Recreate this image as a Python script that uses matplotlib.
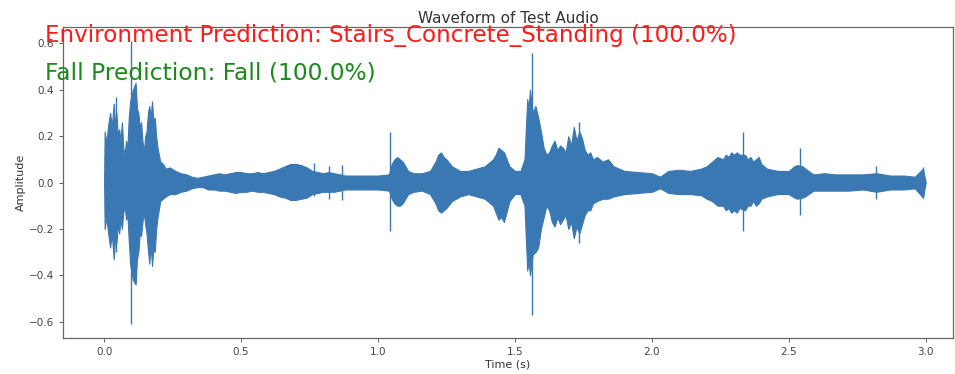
import matplotlib
matplotlib.use("Agg")
import matplotlib.pyplot as plt


# envelope of the waveform (time in s, upper / lower amplitude)
env_t = [0.000, 0.002, 0.008, 0.015, 0.022, 0.028, 0.035, 0.040, 0.045, 0.050,
         0.055, 0.060, 0.065, 0.070, 0.075, 0.080, 0.085, 0.090, 0.095, 0.105,
         0.115, 0.120, 0.125, 0.130, 0.135, 0.140, 0.145, 0.150, 0.155, 0.160,
         0.165, 0.170, 0.175, 0.180, 0.185, 0.190, 0.195, 0.205, 0.215, 0.225,
         0.24, 0.26, 0.28, 0.30, 0.32, 0.34, 0.36, 0.38, 0.40, 0.42,
         0.44, 0.46, 0.48, 0.50, 0.52, 0.54, 0.56, 0.58, 0.60, 0.62,
         0.64, 0.66, 0.68, 0.70, 0.72, 0.74, 0.76, 0.78, 0.80, 0.82,
         0.84, 0.86, 0.88, 0.90, 0.93, 0.96, 1.00, 1.04, 1.05, 1.06,
         1.07, 1.08, 1.09, 1.11, 1.13, 1.16, 1.19, 1.21, 1.22, 1.23,
         1.24, 1.25, 1.27, 1.30, 1.33, 1.36, 1.39, 1.42, 1.43, 1.44,
         1.45, 1.46, 1.48, 1.50, 1.52, 1.535, 1.545, 1.550, 1.555, 1.565,
         1.575, 1.585, 1.595, 1.605, 1.615, 1.625, 1.635, 1.645, 1.655, 1.665,
         1.675, 1.685, 1.695, 1.705, 1.715, 1.725, 1.735, 1.745, 1.755, 1.765,
         1.775, 1.785, 1.80, 1.82, 1.84, 1.86, 1.88, 1.90, 1.95, 2.00,
         2.03, 2.06, 2.10, 2.14, 2.18, 2.20, 2.22, 2.24, 2.26, 2.27,
         2.28, 2.29, 2.30, 2.31, 2.32, 2.34, 2.35, 2.36, 2.37, 2.38,
         2.39, 2.40, 2.42, 2.46, 2.50, 2.52, 2.53, 2.55, 2.56, 2.59,
         2.63, 2.67, 2.72, 2.77, 2.82, 2.87, 2.92, 2.96, 2.99, 3.00]
env_hi = [0.0, 0.22, 0.17, 0.25, 0.30, 0.24, 0.34, 0.25, 0.30, 0.20,
          0.23, 0.18, 0.26, 0.15, 0.12, 0.18, 0.15, 0.28, 0.35, 0.40,
          0.43, 0.32, 0.30, 0.24, 0.26, 0.18, 0.13, 0.20, 0.22, 0.30,
          0.33, 0.28, 0.35, 0.26, 0.28, 0.20, 0.15, 0.09, 0.08, 0.06,
          0.065, 0.05, 0.04, 0.035, 0.025, 0.02, 0.025, 0.03, 0.035, 0.04,
          0.035, 0.04, 0.045, 0.045, 0.04, 0.04, 0.045, 0.04, 0.045, 0.05,
          0.06, 0.07, 0.08, 0.08, 0.075, 0.065, 0.05, 0.045, 0.04, 0.045,
          0.04, 0.035, 0.03, 0.03, 0.03, 0.03, 0.03, 0.035, 0.08, 0.10,
          0.11, 0.10, 0.09, 0.05, 0.04, 0.04, 0.05, 0.09, 0.12, 0.13,
          0.11, 0.10, 0.07, 0.05, 0.05, 0.06, 0.07, 0.10, 0.12, 0.15,
          0.14, 0.13, 0.07, 0.05, 0.05, 0.10, 0.36, 0.32, 0.40, 0.30,
          0.33, 0.28, 0.22, 0.15, 0.12, 0.13, 0.16, 0.18, 0.14, 0.16,
          0.15, 0.13, 0.20, 0.16, 0.24, 0.18, 0.22, 0.19, 0.14, 0.12,
          0.13, 0.10, 0.11, 0.09, 0.10, 0.07, 0.06, 0.05, 0.045, 0.04,
          0.025, 0.05, 0.055, 0.05, 0.06, 0.07, 0.09, 0.11, 0.10, 0.12,
          0.11, 0.13, 0.12, 0.13, 0.12, 0.12, 0.10, 0.11, 0.09, 0.10,
          0.11, 0.08, 0.06, 0.05, 0.05, 0.07, 0.075, 0.07, 0.06, 0.035,
          0.04, 0.035, 0.035, 0.035, 0.04, 0.03, 0.03, 0.025, 0.06, 0.0]
env_lo = [0.0, -0.20, -0.15, -0.22, -0.28, -0.22, -0.33, -0.24, -0.26, -0.18,
          -0.22, -0.16, -0.20, -0.13, -0.10, -0.16, -0.14, -0.25, -0.35, -0.42,
          -0.44, -0.33, -0.30, -0.22, -0.23, -0.17, -0.13, -0.18, -0.22, -0.29,
          -0.35, -0.27, -0.36, -0.28, -0.30, -0.20, -0.15, -0.08, -0.07, -0.06,
          -0.05, -0.05, -0.04, -0.035, -0.025, -0.02, -0.02, -0.03, -0.03, -0.035,
          -0.035, -0.04, -0.045, -0.04, -0.04, -0.035, -0.04, -0.04, -0.045, -0.05,
          -0.06, -0.065, -0.075, -0.075, -0.07, -0.065, -0.05, -0.045, -0.04, -0.04,
          -0.04, -0.035, -0.03, -0.03, -0.03, -0.03, -0.03, -0.035, -0.07, -0.09,
          -0.10, -0.10, -0.09, -0.05, -0.04, -0.035, -0.05, -0.09, -0.12, -0.13,
          -0.12, -0.11, -0.08, -0.06, -0.05, -0.06, -0.07, -0.10, -0.13, -0.16,
          -0.15, -0.17, -0.08, -0.05, -0.05, -0.10, -0.38, -0.34, -0.40, -0.31,
          -0.30, -0.28, -0.20, -0.15, -0.10, -0.12, -0.17, -0.19, -0.15, -0.18,
          -0.16, -0.14, -0.20, -0.17, -0.24, -0.19, -0.22, -0.18, -0.14, -0.12,
          -0.12, -0.09, -0.08, -0.07, -0.07, -0.06, -0.055, -0.05, -0.045, -0.04,
          -0.025, -0.045, -0.05, -0.05, -0.055, -0.07, -0.08, -0.10, -0.10, -0.12,
          -0.11, -0.13, -0.12, -0.13, -0.11, -0.12, -0.10, -0.10, -0.08, -0.10,
          -0.09, -0.07, -0.06, -0.05, -0.05, -0.065, -0.07, -0.065, -0.06, -0.035,
          -0.035, -0.035, -0.035, -0.03, -0.04, -0.03, -0.03, -0.025, -0.065, 0.0]

# single-sample spikes that stick out of the envelope
spike_t = [0.042, 0.100, 0.765, 0.82, 0.87, 1.045, 1.562, 1.735, 2.333, 2.54, 2.82, 2.99]
spike_hi = [0.37, 0.61, 0.085, 0.07, 0.075, 0.22, 0.56, 0.26, 0.22, 0.15, 0.07, 0.065]
spike_lo = [-0.30, -0.61, -0.06, -0.07, -0.075, -0.21, -0.57, -0.26, -0.21, -0.14, -0.07, -0.065]

env_text = "Environment Prediction: Stairs_Concrete_Standing (100.0%)"
fall_text = "Fall Prediction: Fall (100.0%)"

BLUE = "#3a78b4"

fig = plt.figure(figsize=(9.55, 3.74), dpi=100)
ax = fig.add_axes([0.066, 0.096, 0.932, 0.832])

ax.fill_between(env_t, env_lo, env_hi, color=BLUE, linewidth=0.8, edgecolor=BLUE)
ax.vlines(spike_t, spike_lo, spike_hi, color=BLUE, linewidth=1.0)
ax.set_xlim(-0.15, 3.10)

ax.set_title("Waveform of Test Audio", fontsize=11, color="#333333", pad=3)
ax.set_xlabel("Time (s)", fontsize=8, color="#333333", labelpad=2)
ax.set_ylabel("Amplitude", fontsize=8, color="#333333", labelpad=2)
ax.tick_params(labelsize=7.5, colors="#444444", length=3, width=0.6)
for s in ax.spines.values():
    s.set_color("#666666")
    s.set_linewidth(0.9)

fig.text(45 / 955, 1 - 42 / 374, env_text, color="#ff1a1a", fontsize=16.6,
         ha="left", va="baseline")
fig.text(45 / 955, 1 - 80 / 374, fall_text, color="#1a8a1a", fontsize=16.8,
         ha="left", va="baseline")

fig.savefig("out.png", dpi=100)
